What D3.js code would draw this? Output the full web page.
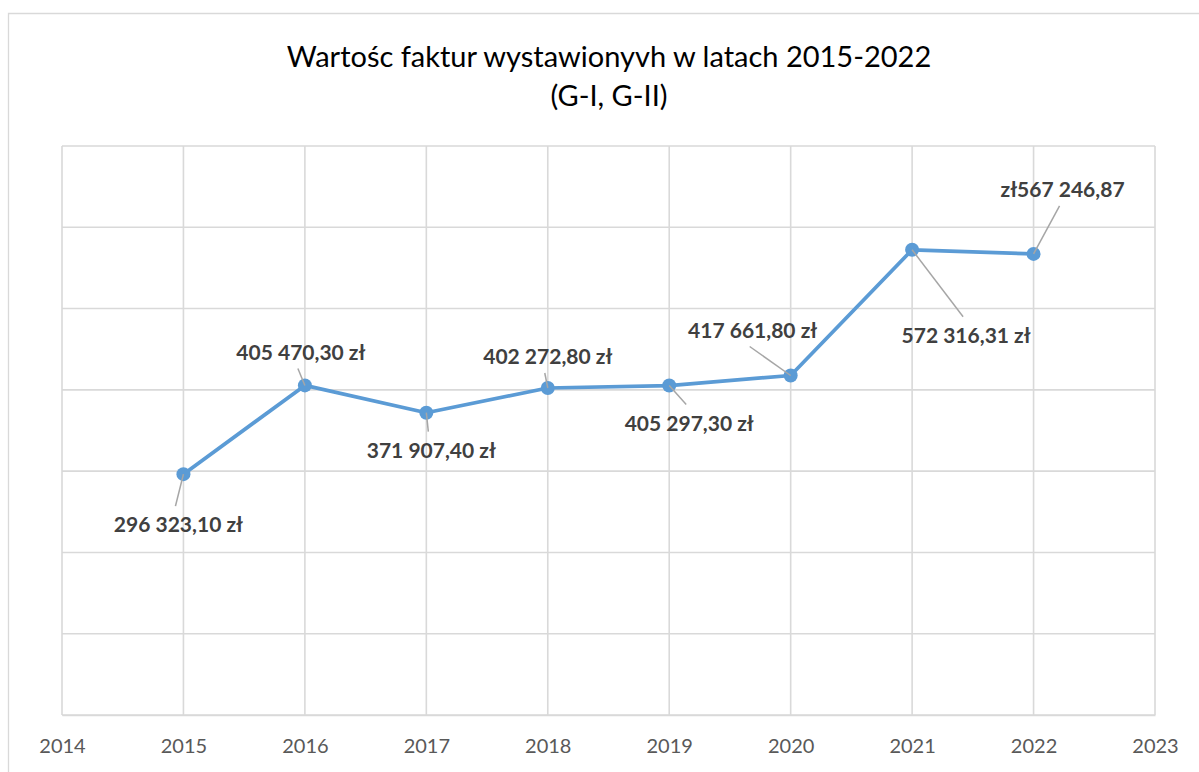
<!DOCTYPE html>
<html>
<head>
<meta charset="utf-8">
<script src="https://cdn.jsdelivr.net/npm/d3@7"></script>
<style>
  html, body { margin: 0; padding: 0; background: #fff; }
  svg { display: block; }
  text { font-family: Lato, "Open Sans", sans-serif; }
</style>
</head>
<body>
<svg id="chart" width="1199" height="772"></svg>
<script>
// ---- data ----
const years = [2015, 2016, 2017, 2018, 2019, 2020, 2021, 2022];
const values = [296323.10, 405470.30, 371907.40, 402272.80, 405297.30, 417661.80, 572316.31, 567246.87];
const labels = ["296 323,10 zł", "405 470,30 zł", "371 907,40 zł", "402 272,80 zł",
                "405 297,30 zł", "417 661,80 zł", "572 316,31 zł", "zł567 246,87"];
const xTicks = [2014, 2015, 2016, 2017, 2018, 2019, 2020, 2021, 2022, 2023];
const yGrid = [0, 100000, 200000, 300000, 400000, 500000, 600000, 700000];
const titleLines = ["Wartośc faktur wystawionyvh w latach 2015-2022", "(G-I, G-II)"];

// ---- layout (label offsets from data point, in px) ----
const labelOffsets = [[-5, 51], [-4, -33], [5, 38], [0, -31], [20, 38], [-38, -45], [54, 86], [29, -64]];

const svg = d3.select("#chart");
const W = 1199, H = 772;
const plot = { left: 62, right: 1155, top: 146, bottom: 715 };

// outer chart border (cropped at right & bottom)
svg.append("path")
  .attr("d", `M8.5,${H} L8.5,13.5 L${W},13.5`)
  .attr("fill", "none").attr("stroke", "#d9d9d9").attr("stroke-width", 1.3);

const x = d3.scaleLinear().domain([2014, 2023]).range([plot.left, plot.right]);
const y = d3.scaleLinear().domain([0, 700000]).range([plot.bottom, plot.top]);

// gridlines
const g = svg.append("g");
g.selectAll("line.h").data(yGrid).join("line")
  .attr("class", "h")
  .attr("x1", plot.left).attr("x2", plot.right)
  .attr("y1", d => y(d)).attr("y2", d => y(d))
  .attr("stroke", "#d9d9d9").attr("stroke-width", 1.6);
g.selectAll("line.v").data(xTicks).join("line")
  .attr("class", "v")
  .attr("x1", d => x(d)).attr("x2", d => x(d))
  .attr("y1", plot.top).attr("y2", plot.bottom)
  .attr("stroke", "#d9d9d9").attr("stroke-width", 1.6);

// x axis
const xAxis = d3.axisBottom(x).tickValues(xTicks).tickFormat(d3.format("d")).tickSize(0).tickPadding(24);
const ax = svg.append("g").attr("transform", `translate(0,${plot.bottom})`).call(xAxis);
ax.select(".domain").attr("stroke", "#d9d9d9").attr("stroke-width", 1.6);
ax.selectAll("text").attr("fill", "#595959").attr("font-size", 20)
  .attr("font-family", "Lato, 'Open Sans', sans-serif");

// title
svg.append("g").selectAll("text").data(titleLines).join("text")
  .attr("x", 609).attr("y", (d, i) => 67 + i * 39)
  .attr("text-anchor", "middle")
  .attr("font-size", 29).attr("fill", "#000")
  .text(d => d);

const pts = years.map((yr, i) => ({ yr, v: values[i], label: labels[i], off: labelOffsets[i] }));

// line
svg.append("path").datum(pts)
  .attr("d", d3.line().x(d => x(d.yr)).y(d => y(d.v)))
  .attr("fill", "none").attr("stroke", "#5b9bd5").attr("stroke-width", 3.7)
  .attr("stroke-linejoin", "round");

// markers
svg.append("g").selectAll("circle").data(pts).join("circle")
  .attr("cx", d => x(d.yr)).attr("cy", d => y(d.v)).attr("r", 7)
  .attr("fill", "#5b9bd5");

// leader lines
svg.append("g").selectAll("line").data(pts).join("line")
  .attr("x1", d => x(d.yr)).attr("y1", d => y(d.v))
  .attr("x2", d => x(d.yr) + d.off[0] - 3)
  .attr("y2", d => y(d.v) + d.off[1] + (d.off[1] > 0 ? -19 : 16))
  .attr("stroke", "#a6a6a6").attr("stroke-width", 1.5);

// data labels
svg.append("g").selectAll("text").data(pts).join("text")
  .attr("x", d => x(d.yr) + d.off[0])
  .attr("y", d => y(d.v) + d.off[1])
  .attr("dy", "0.35em")
  .attr("text-anchor", "middle")
  .attr("font-size", 21).attr("font-weight", "bold").attr("fill", "#404040")
  .text(d => d.label);
</script>
</body>
</html>
